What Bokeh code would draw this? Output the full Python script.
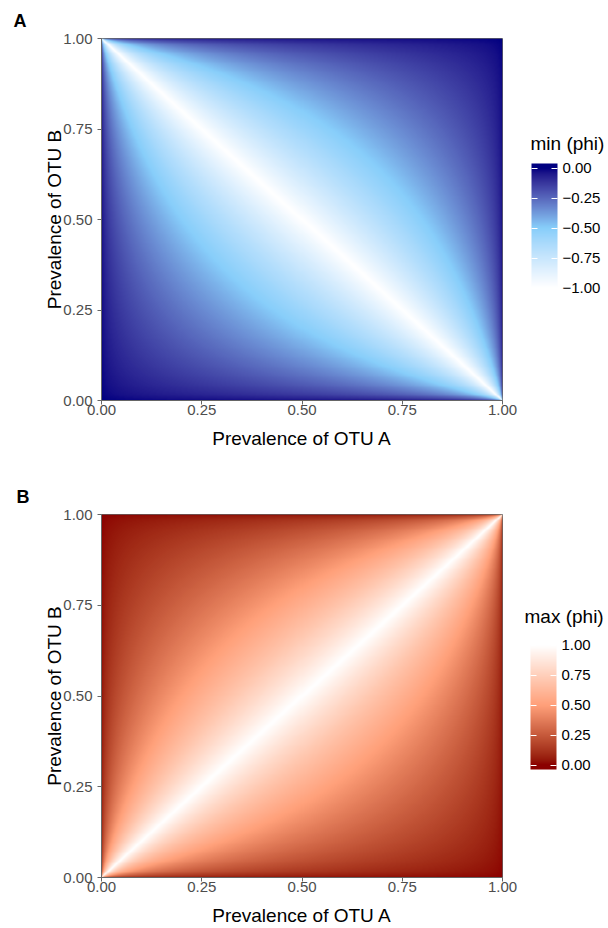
import numpy as np
from bokeh.plotting import figure
from bokeh.layouts import column
from bokeh.models import (LinearColorMapper, ColorBar, FixedTicker,
                          CustomJSTickFormatter, PrintfTickFormatter, Range1d)
from bokeh.embed import file_html
from bokeh.resources import INLINE

# ---- data -------------------------------------------------------------
n_grid = 400
prevalence_a = (np.arange(n_grid) + 0.5) / n_grid   # prevalence of OTU A (x)
prevalence_b = (np.arange(n_grid) + 0.5) / n_grid   # prevalence of OTU B (y)
axis_ticks = [0.0, 0.25, 0.5, 0.75, 1.0]
min_phi_ticks = [-1.0, -0.75, -0.5, -0.25, 0.0]
max_phi_ticks = [0.0, 0.25, 0.5, 0.75, 1.0]
min_phi_colors = ["#FFFFFF", "#87CEFA", "#000080"]   # low, mid, high
max_phi_colors = ["#8B0000", "#FFA07A", "#FFFFFF"]   # low, mid, high

A, B = np.meshgrid(prevalence_a, prevalence_b)
r1 = np.sqrt(A * B / ((1 - A) * (1 - B)))
min_phi = -np.minimum(r1, 1 / r1)
r2 = np.sqrt(A * (1 - B) / (B * (1 - A)))
max_phi = np.minimum(r2, 1 / r2)


# ---- Lab colour interpolation (like ggplot's colour_ramp) -------------
def hex_to_rgb(h):
    h = h.lstrip("#")
    return np.array([int(h[i:i + 2], 16) / 255 for i in (0, 2, 4)])


M = np.array([[0.4124564, 0.3575761, 0.1804375],
              [0.2126729, 0.7151522, 0.0721750],
              [0.0193339, 0.1191920, 0.9503041]])
WHITE = np.array([0.95047, 1.0, 1.08883])


def rgb_to_lab(rgb):
    lin = np.where(rgb <= 0.04045, rgb / 12.92, ((rgb + 0.055) / 1.055) ** 2.4)
    xyz = M @ lin / WHITE
    f = np.where(xyz > 216 / 24389, np.cbrt(xyz), (24389 / 27 * xyz + 16) / 116)
    return np.array([116 * f[1] - 16, 500 * (f[0] - f[1]), 200 * (f[1] - f[2])])


def lab_to_hex(lab):
    L, a, b = lab
    fy = (L + 16) / 116
    fx = fy + a / 500
    fz = fy - b / 200
    f = np.array([fx, fy, fz])
    xyz = np.where(f ** 3 > 216 / 24389, f ** 3, (116 * f - 16) / (24389 / 27)) * WHITE
    lin = np.linalg.solve(M, xyz)
    lin = np.clip(lin, 0, 1)
    rgb = np.where(lin <= 0.0031308, 12.92 * lin, 1.055 * lin ** (1 / 2.4) - 0.055)
    rgb = np.clip(np.round(rgb * 255), 0, 255).astype(int)
    return "#%02x%02x%02x" % tuple(rgb)


def ramp(colors, ts):
    labs = [rgb_to_lab(hex_to_rgb(c)) for c in colors]
    k = len(colors) - 1
    out = []
    for t in np.clip(ts, 0, 1):
        seg = min(int(t * k), k - 1)
        u = t * k - seg
        out.append(lab_to_hex(labs[seg] * (1 - u) + labs[seg + 1] * u))
    return out


FONT = "Liberation Sans"
W, H = 608, 464
EXT = 0.0375   # colour bar drawn slightly past its limits, as ggplot does


def make_panel(letter, img, colors, low, high, cb_title, cb_ticks,
               b_left, b_right, b_top, b_bottom, cb_xy, title_xy):
    p = figure(width=W, height=H, output_backend="svg", toolbar_location=None,
               x_range=Range1d(0, 1), y_range=Range1d(0, 1),
               min_border_left=b_left, min_border_right=b_right,
               min_border_top=b_top, min_border_bottom=b_bottom)
    mapper = LinearColorMapper(palette=ramp(colors, np.linspace(0, 1, 256)),
                               low=low, high=high)
    p.image(image=[img], x=0, y=0, dw=1, dh=1, color_mapper=mapper)
    p.grid.visible = False
    p.outline_line_color = "#666666"
    for ax in (p.xaxis[0], p.yaxis[0]):
        ax.ticker = FixedTicker(ticks=axis_ticks)
        ax.formatter = PrintfTickFormatter(format="%.2f")
        ax.minor_tick_line_color = None
        ax.major_tick_out = 4
        ax.major_tick_in = 0
        ax.major_tick_line_color = "#666666"
        ax.axis_line_color = "#666666"
        ax.major_label_text_font = FONT
        ax.major_label_text_font_size = "15px"
        ax.major_label_text_color = "#4D4D4D"
        ax.axis_label_text_font = FONT
        ax.axis_label_text_font_size = "19px"
        ax.axis_label_text_font_style = "normal"
        ax.axis_label_text_color = "black"
    p.xaxis.major_label_standoff = 0
    p.yaxis.major_label_standoff = 5
    p.xaxis.axis_label = "Prevalence of OTU A"
    p.yaxis.axis_label = "Prevalence of OTU B"
    p.xaxis.axis_label_standoff = 10
    p.yaxis.axis_label_standoff = -5

    p.title.text = letter
    p.title.align = "left"
    p.title.offset = -(b_left - 13)
    p.title.standoff = 16
    p.title.text_font = FONT
    p.title.text_font_size = "18px"
    p.title.text_font_style = "bold"
    p.title.text_color = "black"

    # colour bar: same ramp, extended a little past the limits with end colours
    span = high - low
    lo_e, hi_e = low - EXT * span, high + EXT * span
    ts = (np.linspace(lo_e, hi_e, 256) - low) / span
    cb_mapper = LinearColorMapper(palette=ramp(colors, ts), low=lo_e, high=hi_e)
    cb = ColorBar(color_mapper=cb_mapper, ticker=FixedTicker(ticks=cb_ticks),
                  formatter=CustomJSTickFormatter(
                      code="return tick.toFixed(2).replace('-', '\\u2212');"),
                  width=26, height=129, location=cb_xy, padding=0, margin=0,
                  major_label_text_font=FONT, major_label_text_font_size="15px",
                  major_label_text_color="black", label_standoff=5,
                  major_tick_line_color="white", major_tick_in=26, major_tick_out=0,
                  major_tick_line_dash="6 14",
                  minor_tick_line_color=None, bar_line_color=None,
                  background_fill_color=None, border_line_color=None)
    p.add_layout(cb, "center")

    # legend title: carried by an invisible horizontal bar (title sits above it)
    tb = ColorBar(color_mapper=cb_mapper, orientation="horizontal",
                  ticker=FixedTicker(ticks=[]), width=80, height=1,
                  location=title_xy, padding=0, margin=0, scale_alpha=0,
                  title=cb_title, title_text_font=FONT, title_text_font_size="19px",
                  title_text_font_style="normal", title_text_color="black",
                  title_standoff=0, major_label_text_font_size="1px",
                  major_tick_line_color=None, minor_tick_line_color=None,
                  bar_line_color=None, background_fill_color=None,
                  border_line_color=None)
    p.add_layout(tb, "center")
    return p


pa = make_panel("A", min_phi, min_phi_colors, -1, 0, "min (phi)", min_phi_ticks,
                101, W - 507, 37, H - 400, (430, 108), (429, 246))
pb = make_panel("B", max_phi, max_phi_colors, 0, 1, "max (phi)", max_phi_ticks,
                98, W - 502, 50, H - 413, (429, 108), (423, 250))

layout = column(pa, pb, spacing=0)
open("out.html", "w").write(file_html(layout, INLINE))
